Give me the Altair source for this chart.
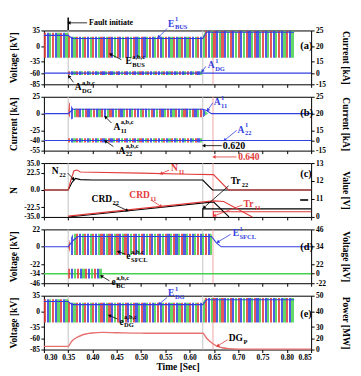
import math
import altair as alt
import pandas as pd

# ---------------- values ----------------
X_DOMAIN = [0.30, 0.85]
X_TICKS = [0.30, 0.35, 0.40, 0.45, 0.50, 0.55, 0.60, 0.65, 0.70, 0.75, 0.80, 0.85]

GRAY_LINES_T = [0.35, 0.627]
PINK_LINES_T = [0.648]

# (a)
EBUS_T = [0.30, 0.35, 0.352, 0.627, 0.632, 0.815]
EBUS_UP = [30, 30, 21, 21, 34, 34]
EBUS_LO = [-26, -26, -26, -26, -26, -26]
EBUS1_T = [0.30, 0.35, 0.358, 0.627, 0.635, 0.815]
EBUS1_V = [24, 24, 17, 17, 31, 31]
ADG_T = [0.35, 0.627]
ADG_UP = [-56, -56]
ADG_LO = [-64, -64]
ADG1_T = [0.30, 0.85]
ADG1_V = [-60, -60]

# (b)
A11_T = [0.35, 0.352, 0.355, 0.358, 0.362, 0.627, 0.632, 0.638]
A11_UP = [0, 16.7, 14, 9, 7.1, 7.1, 4, 0]
A11_LO = [0, -4, -8.5, -8.5, -5.5, -5.5, -3, 0]
A111_T = [0.30, 0.35, 0.36, 0.627, 0.634, 0.645, 0.85]
A111_V = [0, 0, 6.5, 6.5, 5, 0, 0]
A22_T = [0.35, 0.627]
A22_UP = [-36.5, -36.5]
A22_LO = [-43, -43]
A221_T = [0.30, 0.85]
A221_V = [-40, -40]

# (c)
N11_T = [0.30, 0.35, 0.356, 0.362, 0.368, 0.375, 0.40, 0.50, 0.60, 0.649, 0.68, 0.85]
N11_V = [0, 0, 14, 25, 26, 23.5, 23, 22, 20.5, 20, 0, 0]
N22_T = [0.30, 0.35, 0.358, 0.365, 0.375, 0.40, 0.627, 0.647, 0.85]
N22_V = [0, 0, 10, 15, 13.5, 13, 13, 0, 0]
CRD22_T = [0.35, 0.649, 0.681]
CRD22_V = [-35, -15.5, -35]
CRD11_T = [0.35, 0.649, 0.67, 0.729]
CRD11_V = [-34, -14.2, -15, -35]
TR22_T = [0.627, 0.627, 0.85]
TR22_V = [-35, -24.5, -24.5]
TR11_T = [0.649, 0.649, 0.85]
TR11_V = [-35, -28.2, -28.2]
DASH_T = [0.8275, 0.8439]
DASH_V = [-13, -13]

# (d)
SFCL_T = [0.35, 0.353, 0.356, 0.36, 0.645, 0.648]
SFCL_UP = [0, 8, 12, 16.5, 16.5, 5]
SFCL_LO = [0, -6, -10.4, -10.4, -10.4, -8]
SFCL1_T = [0.30, 0.35, 0.36, 0.37, 0.645, 0.655, 0.665, 0.85]
SFCL1_V = [0, 0, 8, 13, 13, 5, 0, 0]
BC_T = [0.35, 0.42]
BC_UP = [-27.7, -27.7]
BC_LO = [-40, -40]
GREENL_T = [0.30, 0.85]
GREENL_V = [-34, -34]

# (e)
EDG_T = [0.30, 0.35, 0.352, 0.627, 0.632, 0.815]
EDG_UP = [27, 27, 19, 19, 30, 30]
EDG_LO = [-25, -25, -25, -25, -25, -25]
EDG1_T = [0.30, 0.35, 0.358, 0.627, 0.635, 0.815]
EDG1_V = [22, 22, 15, 15, 26, 26]
DGP_T = [0.30, 0.35, 0.355, 0.36, 0.37, 0.38, 0.39, 0.40, 0.42, 0.45, 0.50, 0.60,
         0.627, 0.635, 0.645, 0.655, 0.665, 0.68, 0.70, 0.85]
DGP_V = [-78, -78, -70, -64, -57, -52, -49.5, -48, -46.8, -47.5, -48.5, -48.7,
         -48.7, -60, -70, -77, -80.5, -83, -84, -84]

# axes
Y_DOMAIN = {"a": [-85, 35], "b": [-55, 25], "c": [-35, 35], "d": [-46, 22], "e": [-85, 35]}
Y_TICKS = {"a": [35, 0, -35, -60, -85], "b": [25, 0, -25, -40, -55],
           "c": [35, 22.5, 0, -22.5, -35], "d": [22, 0, -22, -34, -46],
           "e": [35, 0, -35, -60, -85]}
LEFT_TITLE = {"a": "Voltage [kV]", "b": "Current [kA]", "c": "N", "d": "Voltage [kV]", "e": "Voltage [kV]"}
RIGHT_POS = {"a": [35, 0, -35, -60, -85], "b": [25, 0, -25, -40, -55],
             "c": [35, 12.1, -11.3, -35], "d": [22, 0, -22, -34, -46],
             "e": [35, 0, -35, -60, -85]}
RIGHT_LABELS = {"a": ["25", "20", "15", "0", "-15"], "b": ["25", "20", "15", "0", "-15"],
                "c": ["13", "12", "11", "0"], "d": ["46", "34", "22", "0", "-22"],
                "e": ["50", "40", "30", "20", "0"]}
RIGHT_TITLE = {"a": "Current [kA]", "b": "Current [kA]", "c": "Value [V]", "d": "Voltage [kV]", "e": "Power [MW]"}

# ---------------- style ----------------
RED = "#e23a3a"
GREEN = "#45d24e"
BLUE = "#3340e0"
PINK = "#e77070"
GRAY = "#c4c4c4"
LPINK = "#f2a6a6"
CLEAR = "rgba(255,255,255,0)"
FONT = "Liberation Serif"
W = 268
PH = 54

CHAR_W = {"E": 0.667, "A": 0.722, "N": 0.722, "C": 0.722, "R": 0.722, "D": 0.722,
          "G": 0.778, "T": 0.667, "r": 0.444, "e": 0.444, "P": 0.611}


def xenc(p):
    show = p == "e"
    ax = alt.Axis(values=X_TICKS, format=".2f", labels=show, ticks=True, domain=False,
                  tickSize=3, grid=False, title=("Time [Sec]" if show else ""),
                  labelPadding=1, titlePadding=1, labelFontSize=7.5, titleFontSize=9.5)
    return alt.X("t:Q", scale=alt.Scale(domain=X_DOMAIN, nice=False, zero=False), axis=ax)


def lab_expr(pos, labs):
    expr = "''"
    for p_, l_ in reversed(list(zip(pos, labs))):
        expr = f"(abs(datum.value - ({p_})) < 0.01) ? '{l_}' : ({expr})"
    return expr


def yenc(p, kind=None, field="v"):
    scale = alt.Scale(domain=Y_DOMAIN[p], nice=False, zero=False)
    if kind == "left":
        ax = alt.Axis(orient="left", values=Y_TICKS[p], format=(".1f" if p == "c" else "d"),
                      labelExpr="replace(datum.label, '\u2212', '-')",
                      title=LEFT_TITLE[p], titleX=-25, titleY=PH / 2, titleAngle=-90,
                      titleAlign="center", titleBaseline="bottom", tickSize=3,
                      labelPadding=1.5, domain=False, grid=False)
        return alt.Y(f"{field}:Q", scale=scale, axis=ax)
    if kind == "right":
        ax = alt.Axis(orient="right", values=RIGHT_POS[p], labelExpr=lab_expr(RIGHT_POS[p], RIGHT_LABELS[p]),
                      title=RIGHT_TITLE[p], titleX=29, titleY=PH / 2, titleAngle=90,
                      titleAlign="center", titleBaseline="bottom", tickSize=3,
                      labelPadding=1.5, domain=False, grid=False)
        return alt.Y(f"{field}:Q", scale=scale, axis=ax)
    return alt.Y(f"{field}:Q", scale=scale, axis=None)


def stripes(duration):
    # texture standing in for the dense red/green/blue three-phase traces
    n = max(1, int(round(duration * 60)))
    cols = [RED, BLUE, GREEN]
    seg = 1.0 / (3 * n)
    stops = []
    for i in range(3 * n):
        c = cols[i % 3]
        a = i * seg
        b = a + seg * 0.8
        e = min(1.0, (i + 1) * seg)
        stops += [alt.GradientStop(color=c, offset=a), alt.GradientStop(color=c, offset=b),
                  alt.GradientStop(color=CLEAR, offset=b), alt.GradientStop(color=CLEAR, offset=e)]
    return alt.LinearGradient(gradient="linear", stops=stops, x1=0, x2=1, y1=0, y2=0)


def band(p, ts, up, lo):
    df = pd.DataFrame({"t": ts, "v": up, "v2": lo})
    return alt.Chart(df).mark_area(color=stripes(ts[-1] - ts[0]), opacity=0.85).encode(
        x=xenc(p), y=yenc(p), y2="v2:Q")


def line(p, ts, vs, color, width=1.1, kind=None, interp="linear"):
    df = pd.DataFrame({"t": ts, "v": vs})
    return alt.Chart(df).mark_line(color=color, strokeWidth=width, interpolate=interp).encode(
        x=xenc(p), y=yenc(p, kind))


def vrules(p):
    g = alt.Chart(pd.DataFrame({"t": GRAY_LINES_T})).mark_rule(color=GRAY, strokeWidth=1).encode(x=xenc(p))
    k = alt.Chart(pd.DataFrame({"t": PINK_LINES_T})).mark_rule(color=LPINK, strokeWidth=1).encode(x=xenc(p))
    return [g, k]


def txt(p, t, v, s, color="black", size=9, dx=0, dy=0, baseline="alphabetic"):
    df = pd.DataFrame({"t": [t], "v": [v], "s": [s]})
    return alt.Chart(df).mark_text(font=FONT, fontWeight="bold", fontSize=size, color=color,
                                   align="left", baseline=baseline, dx=dx, dy=dy).encode(
        x=xenc(p), y=yenc(p), text="s:N")


def rich(p, t, v, base, sup, sub, color="black", size=9.5):
    out = [txt(p, t, v, base, color, size)]
    w = sum(CHAR_W.get(c, 0.55) for c in base) * size + 0.5
    small = size * 0.68
    if sup:
        out.append(txt(p, t, v, sup, color, small, dx=w, dy=-size * 0.55))
    if sub:
        out.append(txt(p, t, v, sub, color, small, dx=w, dy=size * 0.3))
    return out


def arrow(p, t1, v1, t2, v2, color="black"):
    df = pd.DataFrame({"t": [t1, t2], "v": [v1, v2]})
    ln = alt.Chart(df).mark_line(color=color, strokeWidth=0.8).encode(x=xenc(p), y=yenc(p))
    span = Y_DOMAIN[p][1] - Y_DOMAIN[p][0]
    dxp = (t2 - t1) * W / (X_DOMAIN[1] - X_DOMAIN[0])
    dyp = -(v2 - v1) * PH / span
    ang = math.degrees(math.atan2(dxp, -dyp)) % 360
    head = alt.Chart(pd.DataFrame({"t": [t2], "v": [v2]})).mark_point(
        shape="triangle-up", filled=True, size=14, color=color, opacity=1, angle=ang).encode(
        x=xenc(p), y=yenc(p))
    return [ln, head]


def panel(p, layers):
    return alt.layer(*layers).properties(width=W, height=PH).resolve_axis(y="independent")


# ---------- (a) ----------
La = vrules("a") + [
    band("a", EBUS_T, EBUS_UP, EBUS_LO),
    band("a", ADG_T, ADG_UP, ADG_LO),
    line("a", EBUS1_T, EBUS1_V, BLUE, kind="left"),
    line("a", ADG1_T, ADG1_V, BLUE, kind="right"),
]
La += [alt.Chart(pd.DataFrame({"t": [0.35], "v": [36], "v2": [64]})).mark_rule(
    color="black", strokeWidth=1.5).encode(x=xenc("a"), y=yenc("a"), y2="v2:Q")]
La += arrow("a", 0.389, 52, 0.3515, 52)
La += [txt("a", 0.393, 52, "Fault initiate", size=8, baseline="middle")]
La += rich("a", 0.5556, 43.7, "E", "1", "BUS", BLUE)
La += arrow("a", 0.5535, 39.4, 0.536, 20, BLUE)
La += rich("a", 0.4677, -40.6, "E", "a,b,c", "BUS")
La += arrow("a", 0.4595, -30, 0.437, -18)
La += rich("a", 0.6374, -49.4, "A", "1", "DG", BLUE)
La += arrow("a", 0.6333, -45, 0.626, -56, BLUE)
La += rich("a", 0.3634, -98, "A", "a,b,c", "DG")
La += arrow("a", 0.3607, -80.5, 0.3515, -67)
La += [txt("a", 0.8275, 0, "(a)", size=10.5, baseline="middle")]

# ---------- (b) ----------
Lb = vrules("b") + [
    band("b", A11_T, A11_UP, A11_LO),
    band("b", A22_T, A22_UP, A22_LO),
    line("b", A111_T, A111_V, BLUE, kind="left"),
    line("b", A221_T, A221_V, BLUE, kind="right"),
]
Lb += rich("b", 0.6496, 13.1, "A", "1", "11", BLUE)
Lb += arrow("b", 0.6475, 16, 0.6373, 5, BLUE)
Lb += rich("b", 0.4431, -23.9, "A", "a,b,c", "11")
Lb += arrow("b", 0.439, -14, 0.4268, -5)
Lb += rich("b", 0.6987, -28.3, "A", "1", "22", BLUE)
Lb += arrow("b", 0.6967, -25, 0.672, -39.5, BLUE)
Lb += rich("b", 0.4533, -59.4, "A", "a,b,c", "22")
Lb += arrow("b", 0.4431, -49, 0.4268, -41)
Lb += arrow("b", 0.666, -47.6, 0.629, -47.6)
Lb += [txt("b", 0.668, -47.6, "0.620", size=10, baseline="middle")]
Lb += [txt("b", 0.8275, 1.3, "(b)", size=10.5, baseline="middle")]

# ---------- (c) ----------
Lc = vrules("c") + [
    line("c", TR22_T, TR22_V, "black"),
    line("c", TR11_T, TR11_V, RED),
    line("c", CRD22_T, CRD22_V, "black"),
    line("c", CRD11_T, CRD11_V, RED),
    line("c", N22_T, N22_V, "black", kind="right"),
    line("c", N11_T, N11_V, RED, kind="left"),
    line("c", DASH_T, DASH_V, "black", width=1.6),
]
Lc += arrow("c", 0.6966, 43, 0.650, 43, RED)
Lc += [txt("c", 0.70, 43, "0.640", RED, size=9.5, baseline="middle")]
Lc += rich("c", 0.3164, 20.7, "N", None, "22")
Lc += arrow("c", 0.349, 22, 0.361, 14)
Lc += rich("c", 0.5617, 24.6, "N", None, "11", RED)
Lc += arrow("c", 0.5576, 25.9, 0.541, 21.2, RED)
Lc += rich("c", 0.3981, -15.6, "CRD", None, "22")
Lc += arrow("c", 0.4431, -18.2, 0.4717, -26.7)
Lc += rich("c", 0.4758, -10.4, "CRD", None, "11", RED)
Lc += arrow("c", 0.5208, -13, 0.5413, -21.5, RED)
Lc += rich("c", 0.6844, 7.8, "Tr", None, "22")
Lc += arrow("c", 0.6803, 5.5, 0.6292, -23)
Lc += rich("c", 0.711, -22, "Tr", None, "11", RED)
Lc += arrow("c", 0.7085, -19.5, 0.651, -33.5, RED)
Lc += [txt("c", 0.8275, 20.7, "(c)", size=10.5, baseline="middle")]

# ---------- (d) ----------
Ld = vrules("d") + [
    line("d", GREENL_T, GREENL_V, GREEN, width=1.6, kind="left"),
    band("d", SFCL_T, SFCL_UP, SFCL_LO),
    band("d", BC_T, BC_UP, BC_LO),
    line("d", SFCL1_T, SFCL1_V, BLUE, kind="right"),
]
Ld += rich("d", 0.6885, 13.2, "E", "1", "SFCL", BLUE)
Ld += arrow("d", 0.6844, 15.8, 0.6578, 6, BLUE)
Ld += rich("d", 0.4697, -15.8, "e", "a,b,c", "SFCL")
Ld += arrow("d", 0.4677, -9.5, 0.4534, -6)
Ld += rich("d", 0.439, -48.5, "e", "a,b,c", "BC")
Ld += arrow("d", 0.4349, -43, 0.4186, -37)
Ld += [txt("d", 0.8275, 0, "(d)", size=10.5, baseline="middle")]

# ---------- (e) ----------
Le = vrules("e") + [
    band("e", EDG_T, EDG_UP, EDG_LO),
    line("e", EDG1_T, EDG1_V, BLUE, kind="left"),
    line("e", DGP_T, DGP_V, PINK, width=1.4, kind="right", interp="monotone"),
]
Le += rich("e", 0.5556, 34, "E", "1", "DG", BLUE)
Le += arrow("e", 0.5535, 31, 0.537, 16, BLUE)
Le += rich("e", 0.4554, -29.4, "e", "a,b,c", "DG")
Le += arrow("e", 0.4513, -17, 0.4349, -9)
Le += rich("e", 0.6803, -67, "DG", None, "P")
Le += arrow("e", 0.6782, -63, 0.6578, -77, RED)
Le += [txt("e", 0.8275, -5, "(e)", size=10.5, baseline="middle")]

chart = alt.vconcat(
    panel("a", La), panel("b", Lb), panel("c", Lc), panel("d", Ld), panel("e", Le),
    spacing=12.5, bounds="flush"
).properties(
    padding={"top": 7, "left": 0, "right": 2, "bottom": 0}
).configure_axis(
    labelFont=FONT, titleFont=FONT, labelFontWeight="bold", titleFontWeight="bold",
    labelFontSize=7.5, titleFontSize=9.5, labelColor="black", titleColor="black",
    tickColor="black", domainColor="black", grid=False
).configure_view(stroke="black", strokeWidth=1)

chart.save("out.html", embed_options={"renderer": "svg", "actions": False})
